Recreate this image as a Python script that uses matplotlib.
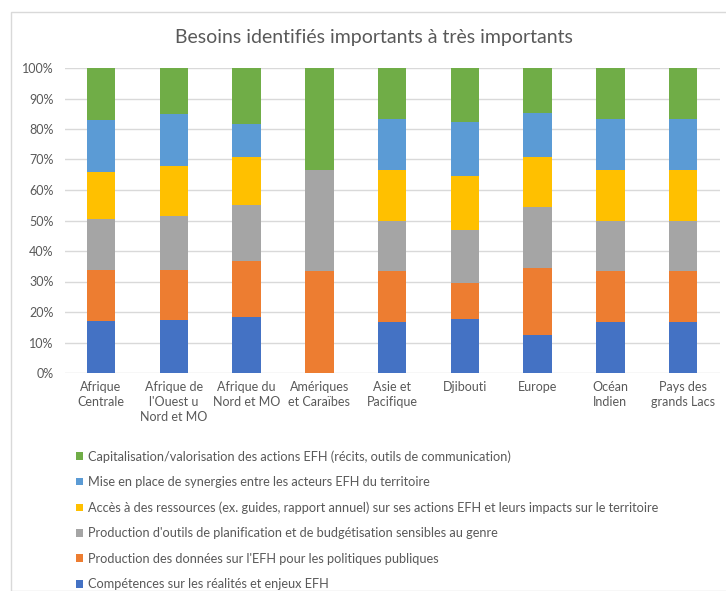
import matplotlib.pyplot as plt
import numpy as np
from matplotlib.patches import Rectangle
from matplotlib.ticker import PercentFormatter

plt.rcParams['font.family'] = ['Lato', 'DejaVu Sans']

regions = ["Afrique\nCentrale", "Afrique de\nl'Ouest u\nNord et MO", "Afrique du\nNord et MO",
           "Amériques\net Caraïbes", "Asie et\nPacifique", "Djibouti", "Europe",
           "Océan\nIndien", "Pays des\ngrands Lacs"]

# shares (%) per region, bottom to top
competences = [16.9, 17.4, 18.2, 0.0, 16.7, 17.6, 12.5, 16.7, 16.7]
donnees = [16.9, 16.4, 18.5, 33.3, 16.7, 11.8, 21.8, 16.7, 16.7]
outils = [16.6, 17.7, 18.3, 33.4, 16.6, 17.6, 20.1, 16.6, 16.6]
ressources = [15.4, 16.5, 15.8, 0.0, 16.7, 17.7, 16.4, 16.7, 16.7]
synergies = [17.3, 16.9, 10.7, 0.0, 16.6, 17.6, 14.5, 16.6, 16.6]
capitalisation = [16.9, 15.1, 18.5, 33.3, 16.7, 17.7, 14.7, 16.7, 16.7]

series = [
    ("Compétences sur les réalités et enjeux EFH", competences, "#4472c4"),
    ("Production des données sur l'EFH pour les politiques publiques", donnees, "#ed7d31"),
    ("Production d'outils de planification et de budgétisation sensibles au genre", outils, "#a5a5a5"),
    ("Accès à des ressources (ex. guides, rapport annuel) sur ses actions EFH et leurs impacts sur le territoire",
     ressources, "#ffc000"),
    ("Mise en place de synergies entre les acteurs EFH du territoire", synergies, "#5b9bd5"),
    ("Capitalisation/valorisation des actions EFH (récits, outils de communication)", capitalisation, "#70ad47"),
]

fig = plt.figure(figsize=(7.26, 5.91), dpi=100)
ax = fig.add_axes([64.6 / 726, 1 - 373 / 591, 655 / 726, 305 / 591])

x = np.arange(len(regions))
bottom = np.zeros(len(regions))
handles = []
for label, vals, color in series:
    vals = np.array(vals)
    b = ax.bar(x, vals, 0.39, bottom=bottom, color=color, label=label, zorder=2)
    handles.append(b)
    bottom += vals

ax.set_xlim(-0.5, len(regions) - 0.5)
ax.set_ylim(0, 100)
ax.set_yticks(np.arange(0, 101, 10))
ax.yaxis.set_major_formatter(PercentFormatter(decimals=0))
ax.set_xticks(x)
ax.set_xticklabels(regions, fontsize=9, color="#595959", linespacing=1.3)
ax.tick_params(axis='y', labelsize=9, labelcolor="#595959", length=0, pad=8)
ax.tick_params(axis='x', length=0, pad=6)
ax.grid(axis='y', color="#d9d9d9", linewidth=1, zorder=0)
for s in ax.spines.values():
    s.set_visible(False)

fig.text(374 / 726, 1 - 38 / 591, "Besoins identifiés importants à très importants",
         ha='center', va='center', fontsize=14, color="#595959")

leg = fig.legend(handles[::-1], [s[0] for s in series][::-1], loc='upper left',
                 bbox_to_anchor=(64 / 726, 1 - 438.5 / 591), frameon=False, fontsize=9.2,
                 labelcolor="#595959", handlelength=0.55, handleheight=0.55,
                 handletextpad=0.4, labelspacing=1.05)

# chart frame
fig.patches.append(Rectangle((11 / 726, 0), 1, 1 - 12 / 591, transform=fig.transFigure,
                             fill=False, edgecolor="#d9d9d9", linewidth=1))

fig.savefig("out.png", dpi=100)
